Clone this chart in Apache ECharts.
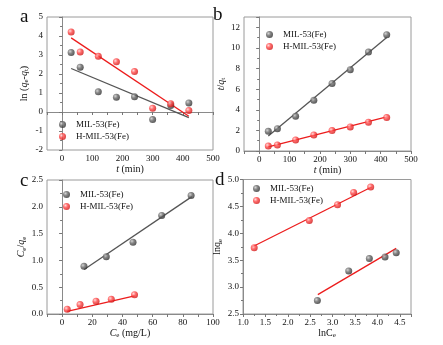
<!DOCTYPE html>
<html>
<head>
<meta charset="utf-8">
<script src="https://cdn.jsdelivr.net/npm/echarts@6/dist/echarts.min.js"></script>
<style>
  html, body { margin: 0; padding: 0; background: #fff; }
  #chart { width: 443px; height: 345px; }
</style>
</head>
<body>
<div id="chart"></div>
<script>
// panel a / b : time series
const tMin = [30, 60, 120, 180, 240, 300, 360, 420]
const aMil = [3.13, 2.36, 1.06, 0.78, 0.80, -0.40, 0.34, 0.48]
const aHMil = [4.21, 3.16, 2.93, 2.64, 2.13, 0.20, 0.43, 0.08]
const aMilFit = [[30, 2.29], [420, -0.30]]
const aHMilFit = [[30, 3.90], [420, -0.22]]

const bMil = [1.91, 2.17, 3.37, 4.93, 6.55, 7.88, 9.60, 11.29]
const bHMil = [0.49, 0.58, 1.07, 1.56, 1.98, 2.34, 2.79, 3.24]
const bMilFit = [[30, 1.46], [420, 11.0]]
const bHMilFit = [[30, 0.39], [420, 3.31]]

// panel c : Langmuir
const ceMil = [14.5, 29.3, 47, 66, 85.5]
const cMil = [0.89, 1.07, 1.34, 1.84, 2.21]
const ceHMil = [3.4, 11.9, 22.5, 32.6, 48]
const cHMil = [0.09, 0.175, 0.24, 0.275, 0.36]
const cMilFit = [[14.6, 0.83], [86, 2.19]]
const cHMilFit = [[3.4, 0.05], [48, 0.34]]

// panel d : Freundlich
const lnCeMil = [2.66, 3.36, 3.82, 4.17, 4.42]
const dMil = [2.75, 3.30, 3.53, 3.56, 3.64]
const lnCeHMil = [1.25, 2.48, 3.11, 3.47, 3.85]
const dHMil = [3.73, 4.24, 4.53, 4.76, 4.86]
const dMilFit = [[2.67, 2.86], [4.42, 3.72]]
const dHMilFit = [[1.19, 3.74], [3.87, 4.86]]

const names = ['MIL-53(Fe)', 'H-MIL-53(Fe)']
const FONT = "'Liberation Serif', 'Times New Roman', serif"

const grayBall = {
  type: 'radial', x: 0.35, y: 0.35, r: 0.7,
  colorStops: [{offset: 0, color: '#c8c8c8'}, {offset: 0.45, color: '#666'}, {offset: 1, color: '#2e2e2e'}]
}
const redBall = {
  type: 'radial', x: 0.35, y: 0.35, r: 0.7,
  colorStops: [{offset: 0, color: '#ffd0d0'}, {offset: 0.45, color: '#ff4646'}, {offset: 1, color: '#cc1414'}]
}
const grayLine = '#555'
const redLine = '#ec1c1c'

const zip = (xs, ys) => xs.map((x, i) => [x, ys[i]])

const grids = [
  {left: 47, top: 17, width: 166, height: 133},
  {left: 244, top: 17, width: 167, height: 134},
  {left: 47, top: 180, width: 166, height: 134},
  {left: 243, top: 179.5, width: 168, height: 134.5},
].map(g => ({...g, show: true, borderColor: '#9a9a9a', borderWidth: 1}))

const baseAxis = (gridIndex) => ({
  gridIndex,
  splitLine: {show: false},
  axisLine: {lineStyle: {color: '#8a8a8a'}},
  axisTick: {length: 3, lineStyle: {color: '#777'}},
  axisLabel: {fontFamily: FONT, fontSize: 9, color: '#111', margin: 4},
  nameTextStyle: {fontFamily: FONT, fontSize: 10, color: '#111'},
  nameLocation: 'middle',
})

const rich = {
  i: {fontFamily: FONT, fontSize: 10, fontStyle: 'italic', color: '#111'},
  n: {fontFamily: FONT, fontSize: 10, color: '#111'},
  s: {fontFamily: FONT, fontSize: 7, color: '#111', verticalAlign: 'bottom', padding: [5, 0, 0, 0]},
}
const nameStyle = {fontFamily: FONT, fontSize: 10, color: '#111', rich}

const hundreds = v => (v % 100 === 0 ? String(v) : '')
const twenties = v => (v % 20 === 0 ? String(v) : '')

const xAxis = [
  {...baseAxis(0), type: 'value', min: -50, max: 500, interval: 50,
    axisLabel: {...baseAxis(0).axisLabel, formatter: hundreds},
    name: '{i|t} {n|(min)}', nameGap: 13, nameTextStyle: nameStyle},
  {...baseAxis(1), type: 'value', min: -50, max: 500, interval: 50,
    axisLabel: {...baseAxis(1).axisLabel, formatter: hundreds},
    name: '{i|t} {n|(min)}', nameGap: 13, nameTextStyle: nameStyle},
  {...baseAxis(2), type: 'value', min: -10, max: 100, interval: 10,
    axisLabel: {...baseAxis(2).axisLabel, formatter: twenties},
    name: '{i|C}{s|e} {n|(mg/L)}', nameGap: 13, nameTextStyle: nameStyle},
  {...baseAxis(3), type: 'value', min: 1.0, max: 4.75, interval: 0.5,
    minorTick: {show: true, splitNumber: 2, length: 2, lineStyle: {color: '#777'}},
    axisLabel: {...baseAxis(3).axisLabel, showMaxLabel: false, formatter: v => v.toFixed(1)},
    name: '{n|lnC}{s|e}', nameGap: 13, nameTextStyle: nameStyle},
]

const yMinor = {show: true, splitNumber: 2, length: 2, lineStyle: {color: '#777'}}
const yAxis = [
  {...baseAxis(0), type: 'value', min: -2, max: 5, interval: 1, minorTick: yMinor,
    name: '{n|ln (}{i|q}{s|e}{n|-}{i|q}{s|t}{n|)}', nameGap: 17, nameTextStyle: nameStyle},
  {...baseAxis(1), type: 'value', min: 0, max: 13, interval: 2, minorTick: yMinor,
    axisLabel: {...baseAxis(1).axisLabel, showMaxLabel: false},
    name: '{i|t}{n|/}{i|q}{s|t}', nameGap: 17, nameTextStyle: nameStyle},
  {...baseAxis(2), type: 'value', min: 0, max: 2.5, interval: 0.5, minorTick: yMinor,
    axisLabel: {...baseAxis(2).axisLabel, formatter: v => v.toFixed(1)},
    name: '{i|C}{s|e}{n|/}{i|q}{s|e}', nameGap: 19, nameTextStyle: nameStyle},
  {...baseAxis(3), type: 'value', min: 2.5, max: 5.0, interval: 0.5, minorTick: yMinor,
    axisLabel: {...baseAxis(3).axisLabel, formatter: v => v.toFixed(1)},
    name: '{n|lnq}{s|e}', nameGap: 19, nameTextStyle: nameStyle},
]

const scatter = (name, data, idx, color) => ({
  name, type: 'scatter', xAxisIndex: idx, yAxisIndex: idx, data,
  symbol: 'circle', symbolSize: 7, itemStyle: {color}, z: 3
})
const fit = (data, idx, color) => ({
  name: 'fit' + idx + color, type: 'line', xAxisIndex: idx, yAxisIndex: idx, data,
  symbol: 'none', lineStyle: {color, width: 1.3}, z: 2, silent: true
})

const series = [
  fit(aMilFit, 0, grayLine), fit(aHMilFit, 0, redLine),
  scatter(names[0], zip(tMin, aMil), 0, grayBall),
  scatter(names[1], zip(tMin, aHMil), 0, redBall),

  fit(bMilFit, 1, grayLine), fit(bHMilFit, 1, redLine),
  scatter(names[0], zip(tMin, bMil), 1, grayBall),
  scatter(names[1], zip(tMin, bHMil), 1, redBall),

  fit(cMilFit, 2, grayLine), fit(cHMilFit, 2, redLine),
  scatter(names[0], zip(ceMil, cMil), 2, grayBall),
  scatter(names[1], zip(ceHMil, cHMil), 2, redBall),

  fit(dMilFit, 3, redLine), fit(dHMilFit, 3, redLine),
  scatter(names[0], zip(lnCeMil, dMil), 3, grayBall),
  scatter(names[1], zip(lnCeHMil, dHMil), 3, redBall),
]

const legendAt = (left, top) => ({
  left, top, orient: 'vertical', data: names, icon: 'circle',
  itemWidth: 7, itemHeight: 7, itemGap: 3, padding: 0,
  textStyle: {fontFamily: FONT, fontSize: 9, color: '#111', padding: [0, 0, 0, 5]},
  selectedMode: false
})

const letter = (text, left, top) => ({
  type: 'text', left, top,
  style: {text, font: '19px ' + FONT, fill: '#111'}
})

const chart = echarts.init(document.getElementById('chart'))
chart.setOption({
  animation: false,
  backgroundColor: '#fff',
  grid: grids,
  xAxis,
  yAxis,
  legend: [legendAt(59, 120), legendAt(266, 30), legendAt(63, 190), legendAt(253, 184)],
  graphic: [letter('a', 20, 8), letter('b', 213, 6), letter('c', 20, 172), letter('d', 215, 171)],
  series
})
</script>
</body>
</html>
